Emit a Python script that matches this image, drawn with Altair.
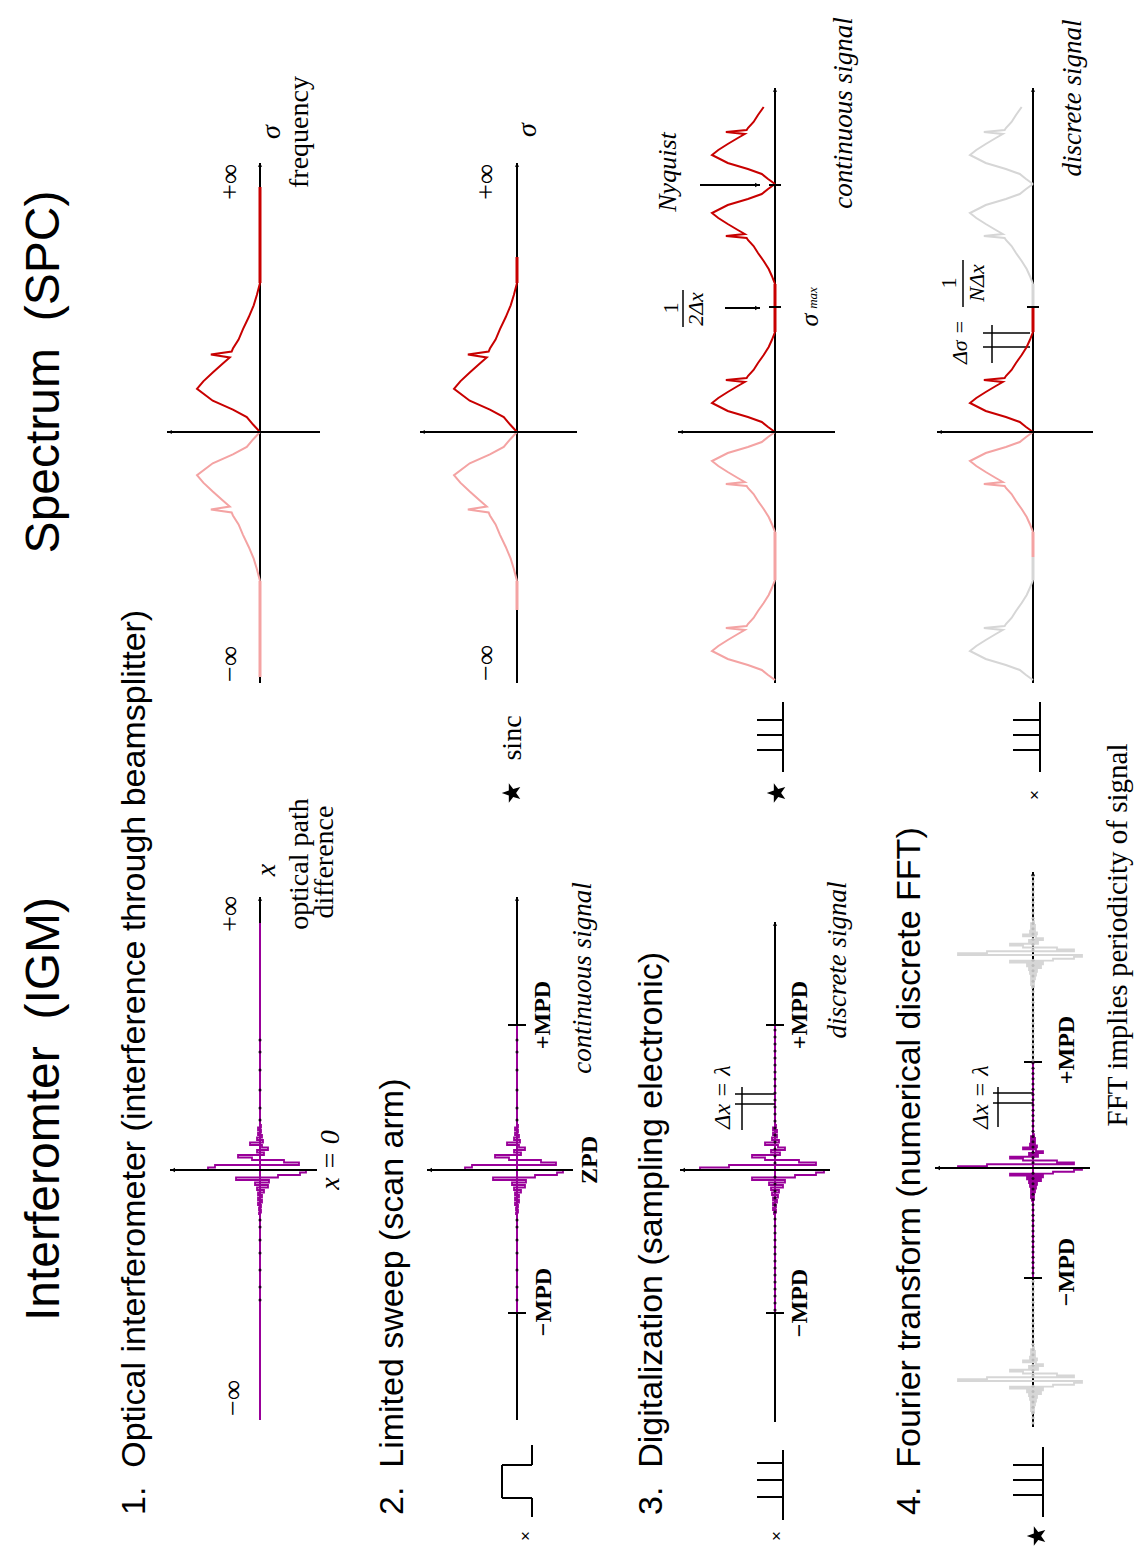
import altair as alt
import pandas as pd

PURPLE = "#990099"
RED = "#C80000"
PINK = "#F4A3A3"
GRAY = "#D6D6D6"
BLACK = "#000000"

# ---------------- values ----------------
# interferogram centre burst: offset from ZPD (px) and deflection (px, + = towards axis arrow)
igm_off = [-45, -42.5, -40, -37.5, -35, -32.5, -30, -27.5, -25, -22.5, -20, -17.5, -15, -12.5, -10, -7.5, -5, -2.5,
           0, 2.5, 5, 7.5, 10, 12.5, 15, 17.5, 20, 22.5, 25, 27.5, 30, 32.5, 35, 37.5, 40, 42.5, 45]
igm_cont = [1, -1, 2, -1, 2, -2, 3, -3, 10, -2, -8, 3, -4, 22, 8, -24, -39, 45,
            52, -46, -40, -18, 24, -9, 5, -8, 3, -4, 2, -2, 2, -2, 2, -1, 1, -1, 1]
igm_disc = [1, -1, 2, -2, 2, -2, 3, -4, 10, -3, -10, 4, -5, 23, 10, -24, -41, 46,
            75, -49, -41, -20, 23, -10, 6, -8, 4, -4, 3, -3, 2, -2, 2, -1, 2, -1, 1]
# small bumps along the tails
igm_dots_cont = [-130, -118, -100, -80, -62, -50, 50, 57, 70, 83, 100, 117, 130]
igm_dots_disc = [-140, -133, -126, -119, -112, -105, -98, -91, -84, -77, -70, -63, -56, -49, -42, -35, -28, -21,
                 -14, -7, 7, 14, 21, 28, 35, 42, 49, 56, 63, 70, 77, 84, 91, 98, 105, 112, 119, 126, 133, 140]
# spectrum half-band (normalised wavenumber, normalised amplitude) incl. narrow line
spec_s = [0, 0.05, 0.10, 0.15, 0.21, 0.29, 0.34, 0.40, 0.46, 0.50, 0.52, 0.54, 0.56, 0.62, 0.69, 0.77, 0.85, 0.92, 1.0]
spec_a = [0, 0.11, 0.21, 0.43, 0.75, 1.0, 0.90, 0.75, 0.59, 0.48, 0.78, 0.45, 0.43, 0.34, 0.27, 0.18, 0.10, 0.05, 0]

# ---------------- layout ----------------
XS = alt.Scale(domain=[8, 1138], nice=False, zero=False)
YS = alt.Scale(domain=[8, 1546], nice=False, zero=False, reverse=True)

segs_base, segs_top, lines, igm_lines, dots, marks = [], [], [], [], [], []


def seg(lst, x, y, x2, y2, c=BLACK, w=2):
    lst.append(dict(x=x, y=y, x2=x2, y2=y2, c=c, w=w))


def add_line(lst, gid, pts, c, w=2):
    for i, (x, y) in enumerate(pts):
        lst.append(dict(g=gid, o=i, x=x, y=y, c=c, w=w))


igm_rows = [
    dict(ax=260, zy=1170, top=897, bot=1420, left=170, right=317, lo=923, hi=1420, mpd=False, sc=1.0, amp=igm_cont, dt=igm_dots_cont),
    dict(ax=517, zy=1170, top=897, bot=1420, left=427, right=573, lo=1025, hi=1313, mpd=True, sc=1.0, amp=igm_cont, dt=igm_dots_cont),
    dict(ax=775, zy=1170, top=922, bot=1422, left=680, right=830, lo=1025, hi=1313, mpd=True, sc=1.0, amp=igm_disc, dt=igm_dots_disc),
    dict(ax=1033, zy=1168, top=872, bot=1427, left=935, right=1090, lo=1062, hi=1278, mpd=True, sc=0.75, amp=igm_disc, dt=igm_dots_disc),
]

for r, p in enumerate(igm_rows):
    ax, zy = p["ax"], p["zy"]
    seg(segs_base, ax, p["top"], ax, p["bot"])
    seg(segs_base, ax, p["lo"], ax, p["hi"], PURPLE, 2)
    if p["mpd"]:
        seg(segs_top, ax - 9, p["lo"], ax + 9, p["lo"])
        seg(segs_top, ax - 9, p["hi"], ax + 9, p["hi"])
    seg(segs_top, p["left"], zy, p["right"], zy)
    marks.append(dict(x=p["left"] + 3, y=zy, sh="triangle-left", s=22))
    marks.append(dict(x=ax, y=p["top"] + 2, sh="triangle-up", s=18))
    add_line(igm_lines, f"igm{r}", [(ax - a, zy + o * p["sc"]) for o, a in zip(igm_off, p["amp"])], PURPLE, 1.8)
    for o in p["dt"]:
        yy = zy + o * p["sc"]
        if p["lo"] <= yy <= p["hi"]:
            dots.append(dict(x=ax, y=yy, c="#220022"))
    if r == 3:  # periodic copies implied by the FFT
        per = 2 * (p["zy"] - p["lo"]) + 1
        for cc in (zy - per, zy + per):
            add_line(igm_lines, f"igmg{cc}", [(ax - a, cc + o * p["sc"]) for o, a in zip(igm_off, p["amp"])
                                              if p["top"] <= cc + o * p["sc"] <= p["bot"]], GRAY, 1.8)
            for o in p["dt"]:
                yy = cc + o * p["sc"]
                if p["top"] <= yy <= p["bot"] and not (p["lo"] <= yy <= p["hi"]):
                    dots.append(dict(x=ax, y=yy, c="#BBBBBB"))

spec_rows = [
    dict(ax=260, top=163, left=167, right=320, unit=149),
    dict(ax=517, top=163, left=420, right=577, unit=149),
    dict(ax=775, top=88, left=678, right=835, unit=100),
    dict(ax=1033, top=88, left=937, right=1093, unit=100),
]
SPEC_BOT, SPEC_Z, SPEC_H = 683, 432, 63

for r, p in enumerate(spec_rows):
    seg(segs_base, p["ax"], p["top"], p["ax"], SPEC_BOT)
    seg(segs_top, p["left"], SPEC_Z, p["right"], SPEC_Z)
    marks.append(dict(x=p["left"] + 3, y=SPEC_Z, sh="triangle-left", s=18))
    marks.append(dict(x=p["ax"], y=p["top"] + 2, sh="triangle-up", s=18))

# spectral bands: (row, centre, direction, colour, extent)
bands = [
    (0, 432, -1, RED, 1), (0, 432, 1, PINK, 1),
    (1, 432, -1, RED, 1), (1, 432, 1, PINK, 1),
    (2, 432, -1, RED, 1), (2, 432, 1, PINK, 1), (2, 184, 1, RED, 1), (2, 184, -1, RED, 0.77), (2, 680, -1, PINK, 1),
    (3, 432, -1, RED, 1), (3, 432, 1, PINK, 1), (3, 184, 1, GRAY, 1), (3, 184, -1, GRAY, 0.77), (3, 680, -1, GRAY, 1),
]
for i, (r, c, d, col, ext) in enumerate(bands):
    p = spec_rows[r]
    pts = [(p["ax"] - a * SPEC_H, c + d * s * p["unit"]) for s, a in zip(spec_s, spec_a) if s <= ext + 1e-9]
    add_line(lines, f"sp{i}", pts, col, 2)
# flat parts drawn on the axis: (row, from, to, colour)
flats = [(0, 283, 187, RED), (0, 581, 677, PINK), (1, 283, 257, RED), (1, 581, 610, PINK),
         (2, 332, 284, RED), (2, 532, 580, PINK),
         (3, 332, 307, RED), (3, 307, 284, GRAY), (3, 532, 557, PINK), (3, 557, 580, GRAY)]
for r, a, b, col in flats:
    seg(segs_base, spec_rows[r]["ax"], a, spec_rows[r]["ax"], b, col, 3)

# spectrum ticks and arrows (row 3 / row 4)
for yy in (307, 185):
    seg(segs_top, 769, yy, 781, yy)
seg(segs_top, 1027, 307, 1039, 307)
seg(segs_base, 700, 185, 760, 185)
seg(segs_base, 725, 308, 760, 308)
marks.append(dict(x=757, y=185, sh="triangle-right", s=20))
marks.append(dict(x=757, y=308, sh="triangle-right", s=20))
seg(segs_base, 683, 290, 683, 327, BLACK, 1.5)   # fraction bar 1/(2Δx)
seg(segs_base, 963, 260, 963, 307, BLACK, 1.5)   # fraction bar 1/(NΔx)

# dimension brackets
for (xa, xe, y1, y2, xv, yv1, yv2) in [(735, 775, 1094, 1104, 742, 1087, 1130),
                                       (993, 1033, 1093, 1103, 998, 1087, 1127),
                                       (983, 1030, 333, 347, 992, 325, 363)]:
    seg(segs_base, xa, y1, xe, y1, BLACK, 1.5)
    seg(segs_base, xa, y2, xe, y2, BLACK, 1.5)
    seg(segs_base, xv, yv1, xv, yv2, BLACK, 1.5)

# boxcar (row 2)
for a in [(532, 1445, 532, 1465), (532, 1465, 502, 1465), (502, 1465, 502, 1498),
          (502, 1498, 532, 1498), (532, 1498, 532, 1517)]:
    seg(segs_base, *a, BLACK, 2)

# Dirac combs
for (bx, b1, b2, t1, t2, t3, tl) in [(783, 1450, 1520, 1463, 1480, 1497, 757),
                                     (1043, 1447, 1517, 1465, 1480, 1495, 1013),
                                     (783, 702, 772, 720, 735, 750, 757),
                                     (1040, 702, 772, 720, 735, 750, 1013)]:
    seg(segs_base, bx, b1, bx, b2, BLACK, 2)
    for t in (t1, t2, t3):
        seg(segs_base, tl, t, bx, t, BLACK, 2)

STAR = "M-1,0L-0.31,-0.24L-0.31,-0.95L0.12,-0.38L0.81,-0.59L0.4,0L0.81,0.59L0.12,0.38L-0.31,0.95L-0.31,0.24Z"
for (x, y) in [(512, 793), (777, 793), (1037, 1536)]:
    marks.append(dict(x=x, y=y, sh=STAR, s=420))

# ---------------- texts ----------------
NB = "\u00a0"
t_title = [("Interferomter" + NB * 2 + "(IGM)", 45, 1109, 48), ("Spectrum" + NB * 2 + "(SPC)", 45, 372, 48)]
t_rows = [("1." + NB * 2 + "Optical interferometer (interference through beamsplitter)", 135, 1515, 34),
          ("2." + NB * 2 + "Limited sweep (scan arm)", 393, 1515, 34),
          ("3." + NB * 2 + "Digitalization (sampling electronic)", 652, 1515, 34),
          ("4." + NB * 2 + "Fourier transform (numerical discrete FFT)", 910, 1515, 34)]
t_small = [("×", 526, 1536, 17), ("×", 777, 1536, 17), ("×", 1035, 795, 17)]
t_serif = [("−∞", 234, 1398, 28), ("+∞", 231, 914, 28), ("optical path", 300, 864, 28), ("difference", 325, 862, 28),
           ("−∞", 231, 664, 28), ("+∞", 231, 182, 28), ("frequency", 300, 132, 28),
           ("−∞", 487, 663, 28), ("+∞", 487, 182, 28), ("sinc", 513, 738, 28),
           ("1", 671, 308, 22), ("1", 949, 283, 22),
           ("FFT implies periodicity of signal", 1118, 935, 29)]
t_ital = [("x", 267, 870, 28), ("x = 0", 331, 1160, 28), ("σ", 272, 132, 28), ("σ", 528, 130, 28),
          ("continuous signal", 583, 978, 27), ("discrete signal", 838, 960, 27),
          ("Δx = λ", 723, 1097, 24), ("Δx = λ", 981, 1097, 24),
          ("Nyquist", 668, 172, 26), ("σ", 810, 320, 26), ("max", 813, 298, 13),
          ("continuous signal", 844, 113, 27), ("discrete signal", 1073, 98, 27),
          ("2Δx", 696, 309, 22), ("NΔx", 977, 283, 22), ("Δσ =", 960, 342, 22)]
t_bold = [("−MPD", 544, 1302, 24), ("ZPD", 590, 1160, 24), ("+MPD", 543, 1015, 24),
          ("−MPD", 800, 1303, 24), ("+MPD", 800, 1015, 24),
          ("−MPD", 1067, 1272, 24), ("+MPD", 1067, 1050, 24)]

X = lambda f: alt.X(f, scale=XS, axis=None)
Y = lambda f: alt.Y(f, scale=YS, axis=None)


def rule_layer(rows):
    return alt.Chart(pd.DataFrame(rows)).mark_rule().encode(
        x=X("x:Q"), y=Y("y:Q"), x2="x2:Q", y2="y2:Q",
        color=alt.Color("c:N", scale=None, legend=None),
        strokeWidth=alt.StrokeWidth("w:Q", scale=None, legend=None))


def text_layer(rows, font, style="normal", weight="normal", align="center"):
    df = pd.DataFrame(rows, columns=["t", "x", "y", "s"])
    return alt.Chart(df).mark_text(font=font, fontStyle=style, fontWeight=weight, align=align,
                                   baseline="middle", angle=270, color="black").encode(
        x=X("x:Q"), y=Y("y:Q"), text="t:N", size=alt.Size("s:Q", scale=None, legend=None))


def line_layer(rows, interp="linear"):
    return alt.Chart(pd.DataFrame(rows)).mark_line(interpolate=interp, strokeJoin="miter", strokeCap="butt").encode(
        x=X("x:Q"), y=Y("y:Q"), detail="g:N", order="o:Q",
        color=alt.Color("c:N", scale=None, legend=None),
        strokeWidth=alt.StrokeWidth("w:Q", scale=None, legend=None))


dot_layer = alt.Chart(pd.DataFrame(dots)).mark_circle(size=9, opacity=1).encode(
    x=X("x:Q"), y=Y("y:Q"), color=alt.Color("c:N", scale=None, legend=None))

mark_layer = alt.Chart(pd.DataFrame(marks)).mark_point(filled=True, opacity=1, color="black").encode(
    x=X("x:Q"), y=Y("y:Q"), shape=alt.Shape("sh:N", scale=None, legend=None),
    size=alt.Size("s:Q", scale=None, legend=None))

chart = alt.layer(
    rule_layer(segs_base),
    line_layer(lines),
    line_layer(igm_lines, "step-after"),
    rule_layer(segs_top),
    dot_layer,
    mark_layer,
    text_layer(t_title, "Liberation Sans"),
    text_layer(t_rows, "Liberation Sans", align="left"),
    text_layer(t_small, "Liberation Sans"),
    text_layer(t_serif, "Liberation Serif"),
    text_layer(t_ital, "Liberation Serif", style="italic"),
    text_layer(t_bold, "Liberation Serif", weight="bold"),
).properties(width=1130, height=1538, autosize="none", padding=0, background="white"
).configure_view(stroke=None)

chart.save("out.html", embed_options={"renderer": "svg", "actions": False})
